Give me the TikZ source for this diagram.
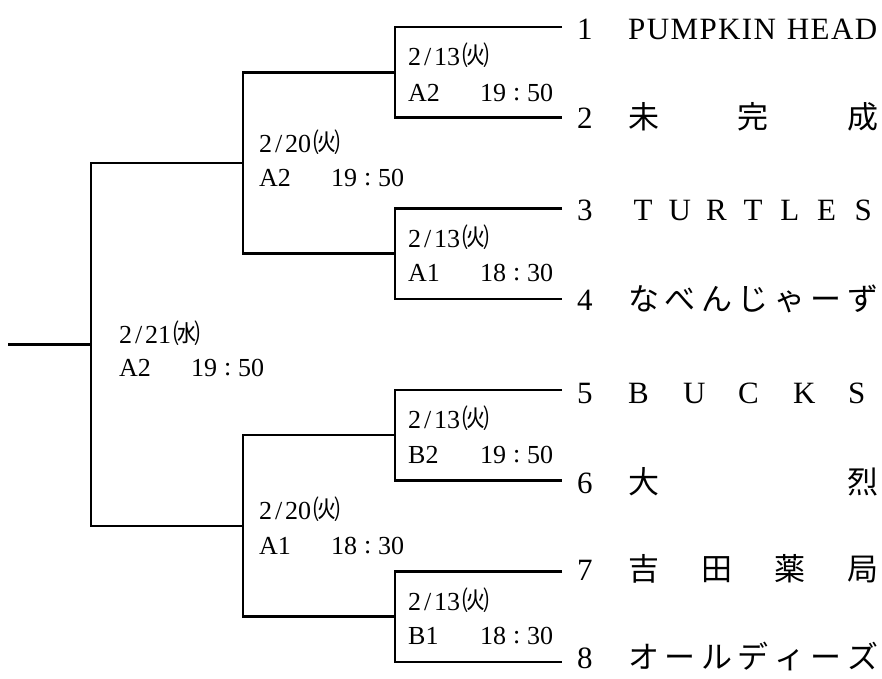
\documentclass[tikz,border=0pt]{standalone}
\usepackage{fontspec}
\setmainfont{Liberation Serif}
\newfontfamily\jp{Noto Sans CJK JP}
\newcommand\fw[1]{\makebox[30pt]{#1}}
\newcommand\dt[2]{#1\makebox[13pt]{/}#2\hspace{2pt}{\jp\fontsize{27}{27}\selectfont ㈫}}
\newcommand\dtw[2]{#1\makebox[13pt]{/}#2\hspace{2pt}{\jp\fontsize{27}{27}\selectfont ㈬}}
\newcommand\tm[3]{\makebox[72pt][l]{#1}#2\makebox[21pt]{\raisebox{1pt}{:}}#3}
\newcommand\num[1]{\makebox[51pt][l]{#1}}
\begin{document}
\begin{tikzpicture}[x=1pt,y=-1pt,
  br/.style={line width=2.6pt, line join=miter},
  team/.style={anchor=base west, inner sep=0pt, font=\fontsize{31}{31}\selectfont},
  lab/.style={anchor=base west, inner sep=0pt, font=\fontsize{26}{26}\selectfont}]
\useasboundingbox (0,0) rectangle (882,678);
% team line ends
\coordinate (e1) at (562,27);
\coordinate (e2) at (562,117.7);
\coordinate (e3) at (562,208.4);
\coordinate (e4) at (562,299.1);
\coordinate (e5) at (562,389.8);
\coordinate (e6) at (562,480.5);
\coordinate (e7) at (562,571.2);
\coordinate (e8) at (562,662);
% bracket joints
\coordinate (m1) at (395,72.35);
\coordinate (m2) at (395,253.75);
\coordinate (m3) at (395,435.15);
\coordinate (m4) at (395,616.6);
\coordinate (s1) at (243,163.05);
\coordinate (s2) at (243,525.9);
\coordinate (f) at (91,344.5);
\coordinate (root) at (8,344.5);
% brackets
\draw[br] (e1) -| (m1) |- (e2);
\draw[br] (e3) -| (m2) |- (e4);
\draw[br] (e5) -| (m3) |- (e6);
\draw[br] (e7) -| (m4) |- (e8);
\draw[br] (m1) -| (s1) |- (m2);
\draw[br] (m3) -| (s2) |- (m4);
\draw[br] (s1) -| (f) |- (s2);
\draw[br] (f) -- (root);
% teams
\node[team] (t1) at (577,39) {\num{1}\makebox[249pt][s]{\addfontfeature{LetterSpace=4.5}PUMPKIN HEAD}};
\node[team] (t2) at (577,128) {\num{2}\hbox to 250pt{\jp 未\hfill 完\hfill 成}};
\node[team] (t3) at (577,220) {\num{3}\hbox to 250pt{\fw{T}\hfill\fw{U}\hfill\fw{R}\hfill\fw{T}\hfill\fw{L}\hfill\fw{E}\hfill\fw{S}}};
\node[team] (t4) at (577,310) {\num{4}\hbox to 250pt{\jp な\hfill べ\hfill ん\hfill じ\hfill ゃ\hfill ー\hfill ず}};
\node[team] (t5) at (577,403) {\num{5}\hbox to 250pt{\makebox[55pt][l]{B}\makebox[55pt][l]{U}\makebox[55pt][l]{C}\makebox[55pt][l]{K}S\hfill}};
\node[team] (t6) at (577,493) {\num{6}\hbox to 250pt{\jp 大\hfill 烈}};
\node[team] (t7) at (577,580) {\num{7}\hbox to 250pt{\jp 吉\hfill 田\hfill 薬\hfill 局}};
\node[team] (t8) at (577,668) {\num{8}\hbox to 250pt{\jp オ\hfill ー\hfill ル\hfill デ\hfill ィ\hfill ー\hfill ズ}};
% match labels, round 1
\node[lab] (a1) at (408,65) {\dt{2}{13}};
\node[lab] (b1) at (408,101) {\tm{A2}{19}{50}};
\node[lab] (a2) at (408,247) {\dt{2}{13}};
\node[lab] (b2) at (408,281) {\tm{A1}{18}{30}};
\node[lab] (a3) at (408,428) {\dt{2}{13}};
\node[lab] (b3) at (408,463) {\tm{B2}{19}{50}};
\node[lab] (a4) at (408,610) {\dt{2}{13}};
\node[lab] (b4) at (408,644) {\tm{B1}{18}{30}};
% round 2
\node[lab] (a5) at (259,152) {\dt{2}{20}};
\node[lab] (b5) at (259,186) {\tm{A2}{19}{50}};
\node[lab] (a6) at (259,519) {\dt{2}{20}};
\node[lab] (b6) at (259,554) {\tm{A1}{18}{30}};
% final
\node[lab] (a7) at (119,343) {\dtw{2}{21}};
\node[lab] (b7) at (119,376) {\tm{A2}{19}{50}};
\end{tikzpicture}
\end{document}
